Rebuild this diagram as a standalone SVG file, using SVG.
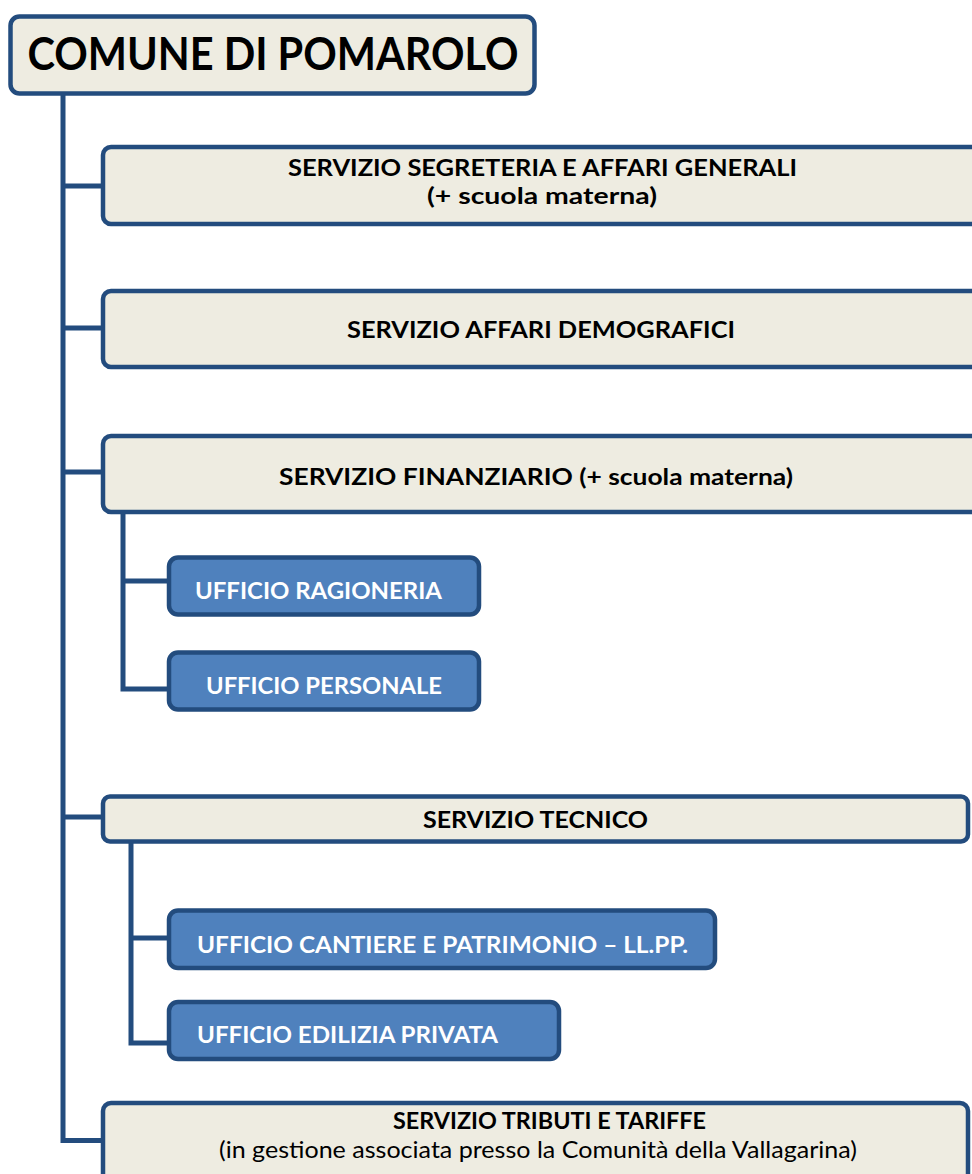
<svg xmlns="http://www.w3.org/2000/svg" width="972" height="1174" viewBox="0 0 972 1174">
<style>
.svc{fill:#EEECE1;stroke:#234C7E;stroke-width:4.5}
.uff{fill:#4F81BD;stroke:#234C7E;stroke-width:4.5}
.con{fill:none;stroke:#234C7E;stroke-width:5}
.t{font-family:Lato,"Open Sans",sans-serif;font-weight:bold;font-size:23px;fill:#000}
.tw{font-family:Lato,"Open Sans",sans-serif;font-weight:bold;font-size:23px;fill:#fff}
.tr{font-family:Lato,"Open Sans",sans-serif;font-size:23px;fill:#000}
</style>
<rect width="972" height="1174" fill="#fff"/>
<g id="connectors">
<path class="con" d="M63,93 V1140.5 H103"/>
<path class="con" d="M63,186 H103"/>
<path class="con" d="M63,328 H103"/>
<path class="con" d="M63,472 H103"/>
<path class="con" d="M63,817 H103"/>
<path class="con" d="M123,511 V689 H169"/>
<path class="con" d="M123,581 H169"/>
<path class="con" d="M131,841 V1043 H169"/>
<path class="con" d="M131,938 H169"/>
</g>
<g id="root">
<rect class="svc" x="10.5" y="16.5" width="524" height="77" rx="9"/>
<text class="t" style="font-size:45px" x="273" y="70" text-anchor="middle" textLength="491" lengthAdjust="spacingAndGlyphs">COMUNE DI POMAROLO</text>
</g>
<g id="segreteria">
<rect class="svc" x="103" y="147" width="900" height="77" rx="8"/>
<text class="t" x="542.5" y="176" text-anchor="middle" textLength="509" lengthAdjust="spacingAndGlyphs">SERVIZIO SEGRETERIA E AFFARI GENERALI</text>
<text class="t" x="542" y="204" text-anchor="middle" textLength="230" lengthAdjust="spacingAndGlyphs">(+ scuola materna)</text>
</g>
<g id="demografici">
<rect class="svc" x="103" y="291" width="900" height="76" rx="8"/>
<text class="t" x="541" y="338" text-anchor="middle" textLength="388" lengthAdjust="spacingAndGlyphs">SERVIZIO AFFARI DEMOGRAFICI</text>
</g>
<g id="finanziario">
<rect class="svc" x="103" y="436" width="900" height="76" rx="8"/>
<text class="t" x="536" y="485" text-anchor="middle" textLength="514" lengthAdjust="spacingAndGlyphs">SERVIZIO FINANZIARIO (+ scuola materna)</text>
</g>
<g id="ragioneria">
<rect class="uff" x="169" y="557.5" width="310" height="57" rx="9"/>
<text class="tw" x="195" y="599" textLength="247" lengthAdjust="spacingAndGlyphs">UFFICIO RAGIONERIA</text>
</g>
<g id="personale">
<rect class="uff" x="169" y="652.5" width="310" height="57" rx="9"/>
<text class="tw" x="206" y="694" textLength="236" lengthAdjust="spacingAndGlyphs">UFFICIO PERSONALE</text>
</g>
<g id="tecnico">
<rect class="svc" x="103" y="796.5" width="865" height="45" rx="7"/>
<text class="t" x="535.5" y="828" text-anchor="middle" textLength="225" lengthAdjust="spacingAndGlyphs">SERVIZIO TECNICO</text>
</g>
<g id="cantiere">
<rect class="uff" x="169" y="910.5" width="546" height="57.5" rx="9"/>
<text class="tw" x="197" y="953" textLength="491" lengthAdjust="spacingAndGlyphs">UFFICIO CANTIERE E PATRIMONIO – LL.PP.</text>
</g>
<g id="edilizia">
<rect class="uff" x="169" y="1002" width="390" height="57" rx="9"/>
<text class="tw" x="197" y="1043" textLength="301" lengthAdjust="spacingAndGlyphs">UFFICIO EDILIZIA PRIVATA</text>
</g>
<g id="tributi">
<rect class="svc" x="103" y="1103" width="865" height="100" rx="8"/>
<text class="t" x="549.5" y="1129" text-anchor="middle" textLength="313" lengthAdjust="spacingAndGlyphs">SERVIZIO TRIBUTI E TARIFFE</text>
<text class="tr" x="538" y="1158" text-anchor="middle" textLength="638" lengthAdjust="spacingAndGlyphs">(in gestione associata presso la Comunità della Vallagarina)</text>
</g>
</svg>
